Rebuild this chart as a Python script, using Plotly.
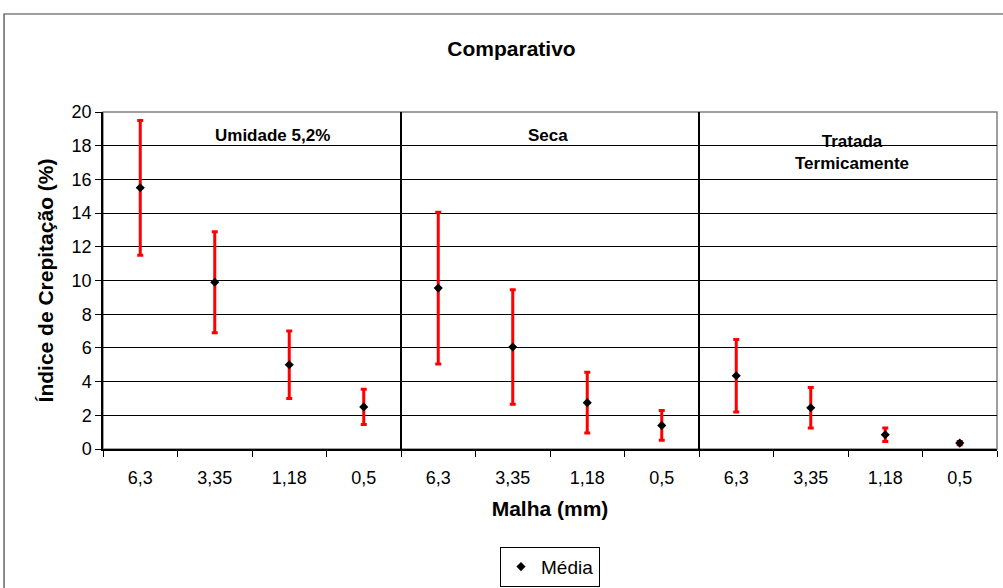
import plotly.graph_objects as go

malha = ["6,3", "3,35", "1,18", "0,5"]
grupos = ["Umidade 5,2%", "Seca", "Tratada<br>Termicamente"]

media_umidade = [15.5, 9.9, 5.0, 2.5]
erro_umidade = [4.0, 3.0, 2.0, 1.05]
media_seca = [9.55, 6.05, 2.75, 1.4]
erro_seca = [4.5, 3.4, 1.8, 0.88]
media_tratada = [4.35, 2.45, 0.85, 0.35]
erro_tratada = [2.15, 1.2, 0.4, 0.1]

medias = media_umidade + media_seca + media_tratada
erros = erro_umidade + erro_seca + erro_tratada
x_pos = list(range(len(medias)))
rotulos = malha * 3

FONT = "Liberation Sans, Arial, sans-serif"

fig = go.Figure()
fig.add_trace(go.Scatter(
    x=x_pos, y=medias, mode="markers", name="Média",
    marker=dict(symbol="diamond", size=7, color="black"),
    error_y=dict(type="data", array=erros, visible=True, color="#ff0000", thickness=3, width=3),
    xaxis="x", yaxis="y",
))
# invisible trace to activate the label axis
fig.add_trace(go.Scatter(x=x_pos, y=medias, mode="markers", marker=dict(opacity=0),
                         showlegend=False, hoverinfo="skip", xaxis="x2", yaxis="y"))

n = len(medias)
fig.update_layout(
    width=1003, height=588,
    margin=dict(l=103, r=6, t=112, b=139, autoexpand=False),
    paper_bgcolor="white", plot_bgcolor="white",
    font=dict(family=FONT, color="black", size=18),
    title=dict(text="<b>Comparativo</b>", x=0.51, xanchor="center", y=0.918, yanchor="middle",
               font=dict(size=21, family=FONT)),
    showlegend=True,
    legend=dict(orientation="h", x=0.5, xanchor="center", y=-0.29, yanchor="top",
                bordercolor="black", borderwidth=1, font=dict(size=19, family=FONT),
                itemwidth=30),
    xaxis=dict(range=[-0.5, n - 0.5], tickvals=[i - 0.5 for i in range(n + 1)],
               ticktext=[""] * (n + 1), ticks="outside", ticklen=6, tickcolor="black",
               showline=True, linecolor="black", linewidth=1.5, showgrid=False, zeroline=False,
               fixedrange=True, automargin=False,
               title=dict(text="<b>Malha (mm)</b>", font=dict(size=21, family=FONT), standoff=42)),
    xaxis2=dict(range=[-0.5, n - 0.5], overlaying="x", side="bottom", tickvals=x_pos,
                ticktext=rotulos, ticks="outside", ticklen=12, tickcolor="rgba(0,0,0,0)",
                showline=False, showgrid=False, zeroline=False, tickfont=dict(size=18),
                automargin=False),
    yaxis=dict(range=[0, 20], dtick=2, ticks="outside", ticklen=6, tickcolor="black",
               showline=True, linecolor="black", linewidth=1.5, showgrid=True, gridcolor="black",
               gridwidth=1, zeroline=False, tickfont=dict(size=18), automargin=False,
               title=dict(text="<b>Índice de Crepitação (%)</b>", font=dict(size=21, family=FONT),
                          standoff=12)),
)

# plot area top/right border (gray)
fig.add_shape(type="rect", xref="paper", yref="paper", x0=0, x1=1, y0=0, y1=1,
              line=dict(color="#808080", width=1.5), layer="below")
# outer chart border
fig.add_shape(type="rect", xref="paper", yref="paper", x0=-0.1107, x1=1.02, y0=-0.6, y1=1.2908,
              line=dict(color="#404040", width=1.2))
# group separators
for b in [3.5, 7.5]:
    fig.add_shape(type="line", xref="x", yref="y", x0=b, x1=b, y0=0, y1=20,
                  line=dict(color="black", width=2))

# group labels
label_x = [1.78, 1.47, 1.56]
label_y = [18.6, 18.6, 17.6]
for g, nome in enumerate(grupos):
    fig.add_annotation(x=g * 4 + label_x[g], y=label_y[g], xref="x", yref="y",
                       text="<b>" + nome + "</b>", showarrow=False,
                       font=dict(size=17, family=FONT), yanchor="middle")

fig.write_html("out.html")
